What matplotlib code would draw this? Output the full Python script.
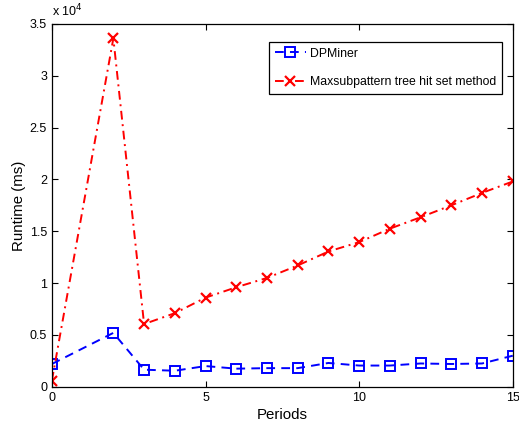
import matplotlib
matplotlib.use("Agg")
import matplotlib.pyplot as plt
from matplotlib.ticker import FuncFormatter

plt.rcParams['font.family'] = ['Liberation Sans', 'DejaVu Sans']

periods = [0, 2, 3, 4, 5, 6, 7, 8, 9, 10, 11, 12, 13, 14, 15]
dpminer_ms = [2200, 5200, 1650, 1550, 2000, 1750, 1800, 1800, 2300, 2050,
              2050, 2250, 2200, 2250, 3000]
maxsub_ms = [600, 33600, 6050, 7100, 8600, 9600, 10500, 11700, 13050, 13950,
             15250, 16350, 17500, 18700, 19800]

fig = plt.figure(figsize=(5.19, 4.26), dpi=100)
ax = fig.add_axes([0.100, 0.092, 0.888, 0.852])

ax.plot(periods, dpminer_ms, color='blue', linestyle=(0, (4.5, 3.2)), linewidth=1.4,
        marker='s', markersize=7, markerfacecolor='none', markeredgewidth=1.4,
        label='DPMiner')
ax.plot(periods, maxsub_ms, color='red', linestyle=(0, (4.5, 2.4, 1, 2.4)), linewidth=1.4,
        marker='x', markersize=7, markeredgewidth=1.6,
        label='Maxsubpattern tree hit set method')

ax.set_xlim(0, 15)
ax.set_ylim(0, 35000)
ax.set_xticks([0, 5, 10, 15])
ax.set_yticks([0, 5000, 10000, 15000, 20000, 25000, 30000, 35000])
ax.yaxis.set_major_formatter(FuncFormatter(lambda v, p: f"{v / 1e4:g}"))
ax.tick_params(direction='in', top=True, right=True, labelsize=9,
               length=4, width=0.8)
for s in ax.spines.values():
    s.set_linewidth(0.9)

ax.text(0.0, 1.012, r"x 10$^4$", transform=ax.transAxes, fontsize=9,
        ha='left', va='bottom')

ax.set_xlabel("Periods", fontsize=10.8, labelpad=3)
ax.set_ylabel("Runtime (ms)", fontsize=10.8, labelpad=3)

leg = ax.legend(loc='upper right', bbox_to_anchor=(0.976, 0.950), fontsize=8.85,
                fancybox=False, edgecolor='black', framealpha=1,
                handlelength=2.5, handletextpad=0.35, borderpad=0.45,
                labelspacing=1.35, borderaxespad=0)
leg.get_frame().set_linewidth(0.9)

fig.savefig("out.png", dpi=100)
